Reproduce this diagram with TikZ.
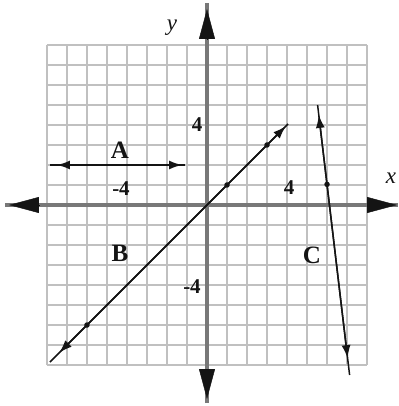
\documentclass[tikz,border=0pt]{standalone}
\usepackage{fontspec}
\setmainfont{Liberation Serif}
\usetikzlibrary{arrows.meta,calc}
\definecolor{GridGray}{RGB}{192,192,192}
\definecolor{AxisGray}{RGB}{120,120,120}
\definecolor{InkBlack}{RGB}{20,20,20}
\tikzset{
  gridline/.style ={draw=GridGray, line width=1.4pt},
  axisline/.style ={draw=AxisGray, line width=3.2pt},
  axistip/.style  ={-{Triangle[length=30pt,width=16pt]}, draw=InkBlack, fill=InkBlack, line width=.4pt},
  plotline/.style ={draw=InkBlack, line width=1.5pt},
  tips/.style     ={{Latex[length=13pt,width=9pt]}-{Latex[length=13pt,width=9pt]}},
  pointdot/.style ={circle, fill=InkBlack, inner sep=0pt, minimum size=5.5pt},
  letterlab/.style={font=\fontsize{25}{27}\selectfont\bfseries, text=InkBlack, inner sep=0pt},
  numlab/.style   ={font=\fontsize{21}{24}\selectfont\bfseries, text=InkBlack, inner sep=0pt},
  axislab/.style  ={font=\fontsize{23}{25}\selectfont\itshape, text=InkBlack, inner sep=0pt},
}
\begin{document}
\begin{tikzpicture}[x=20pt,y=20pt]
  \useasboundingbox (-10.35,-10.05) rectangle (9.55,10.25);
  % grid
  \foreach \k in {-8,...,8}{
    \draw[gridline] (\k,-8) -- (\k,8);
    \draw[gridline] (-8,\k) -- (8,\k);
  }
  % axes
  \coordinate (xl) at (-10.1,0); \coordinate (xr) at (9.55,0);
  \coordinate (yb) at (0,-9.9);  \coordinate (yt) at (0,10.1);
  \draw[axisline] (xl) -- (xr);
  \draw[axisline] (yb) -- (yt);
  \draw[axistip] (-8.4,0) -- (-9.9,0);
  \draw[axistip] (8.0,0) -- (9.5,0);
  \draw[axistip] (0,8.3) -- (0,9.8);
  \draw[axistip] (0,-8.2) -- (0,-9.7);
  \node[axislab] (ylab) at (-1.75,8.85) {y};
  \node[axislab] (xlab) at (9.2,1.35) {x};
  \node[numlab] (xm4) at (-4.3,0.8) {-4};
  \node[numlab] (xp4) at (4.1,0.85) {4};
  \node[numlab] (yp4) at (-0.5,4.0) {4};
  \node[numlab] (ym4) at (-0.75,-4.1) {-4};
  % line A
  \coordinate (A1) at (-7.85,2); \coordinate (A2) at (-1.1,2);
  \draw[plotline] (A1) -- (A2);
  \draw[plotline,tips,shorten <=7pt,shorten >=3pt] (A1) -- (A2);
  \node[letterlab] (Alab) at (-4.35,2.75) {A};
  % line B
  \coordinate (B1) at (-7.85,-7.85); \coordinate (B2) at (4.05,4.05);
  \draw[plotline] (B1) -- (B2);
  \draw[plotline,tips,shorten <=13pt,shorten >=3pt] (B1) -- (B2);
  \foreach \p in {-6,1,3}{\node[pointdot] at (\p,\p) {};}
  \node[letterlab] (Blab) at (-4.35,-2.4) {B};
  % line C
  \coordinate (C1) at (5.53,5.0); \coordinate (C2) at (7.13,-8.5);
  \draw[plotline] (C1) -- (C2);
  \draw[plotline,tips,shorten <=10pt,shorten >=17pt] (C1) -- (C2);
  \node[pointdot] (Cdot) at ($(C1)!0.294!(C2)$) {};
  \node[letterlab] (Clab) at (5.25,-2.5) {C};
\end{tikzpicture}
\end{document}
